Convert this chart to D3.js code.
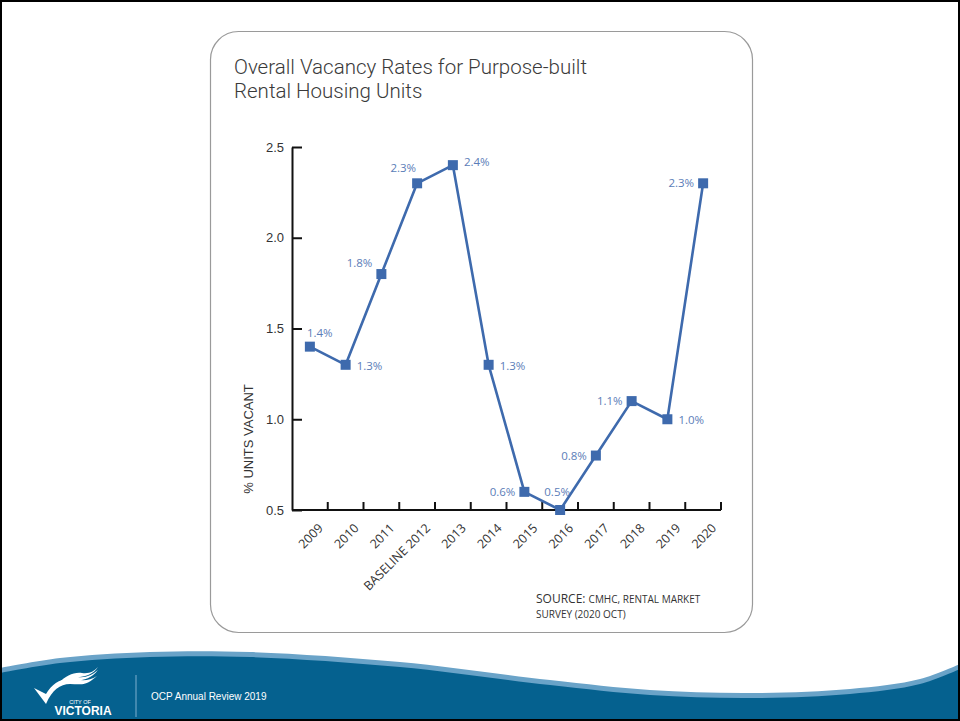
<!DOCTYPE html>
<html>
<head>
<meta charset="utf-8">
<script src="https://cdn.jsdelivr.net/npm/d3@7"></script>
<style>
  html, body { margin: 0; padding: 0; background: #fff; }
  svg { display: block; }
</style>
</head>
<body>
<div id="chart"></div>
<script>
// chart data
const years = ["2009", "2010", "2011", "BASELINE 2012", "2013", "2014", "2015", "2016", "2017", "2018", "2019", "2020"];
const vacancy = [1.4, 1.3, 1.8, 2.3, 2.4, 1.3, 0.6, 0.5, 0.8, 1.1, 1.0, 2.3];
const yTicks = [0.5, 1.0, 1.5, 2.0, 2.5];
// where each value label sits relative to its point
const labelSide = ["above", "right", "left", "aboveLeft", "right", "right", "left", "above", "left", "left", "right", "left"];

const W = 960, H = 721;
const lineColor = "#3e6aad";
const labelColor = "#5b7db8";

const svg = d3.select("#chart").append("svg")
    .attr("width", W)
    .attr("height", H);

svg.append("rect").attr("width", W).attr("height", H).attr("fill", "#fff");

// card
svg.append("rect")
    .attr("x", 210.5).attr("y", 31.5)
    .attr("width", 542).attr("height", 601)
    .attr("rx", 28).attr("ry", 28)
    .attr("fill", "#fff")
    .attr("stroke", "#9a9a9a")
    .attr("stroke-width", 1.2);

// title
const title = svg.append("text")
    .attr("x", 234).attr("y", 73)
    .attr("font-family", "Roboto, 'Liberation Sans', sans-serif")
    .attr("font-weight", 300)
    .attr("font-size", 20.5)
    .attr("fill", "#3a3a3a");
title.append("tspan").attr("x", 234).attr("y", 74).text("Overall Vacancy Rates for Purpose-built");
title.append("tspan").attr("x", 234).attr("y", 98).text("Rental Housing Units");

// scales
const plotL = 292, plotR = 721, plotT = 147, plotB = 510;
const x = d3.scaleBand().domain(years).range([plotL, plotR]).paddingInner(0).paddingOuter(0);
const y = d3.scaleLinear().domain([0.5, 2.5]).range([plotB, plotT]);

// y axis
const yAxis = d3.axisRight(y).tickValues(yTicks).tickFormat(d3.format(".1f")).tickSize(10).tickSizeOuter(0);
const gy = svg.append("g")
    .attr("transform", "translate(" + plotL + ",0)")
    .call(yAxis);
gy.select(".domain").attr("stroke", "#111").attr("stroke-width", 2);
gy.selectAll(".tick line").attr("stroke", "#111").attr("stroke-width", 2);
gy.selectAll(".tick text")
    .attr("x", -8)
    .attr("text-anchor", "end")
    .attr("font-family", "'Liberation Sans', Arial, sans-serif")
    .attr("font-size", 13)
    .attr("fill", "#333");

// x axis: ticks at the right edge of each band, pointing up
const gx = svg.append("g").attr("transform", "translate(0," + plotB + ")");
gx.append("line")
    .attr("x1", plotL).attr("x2", plotR)
    .attr("stroke", "#111").attr("stroke-width", 2);
gx.selectAll(".xt").data(years).join("line")
    .attr("class", "xt")
    .attr("x1", d => x(d) + x.bandwidth()).attr("x2", d => x(d) + x.bandwidth())
    .attr("y1", 0).attr("y2", -8)
    .attr("stroke", "#111").attr("stroke-width", 2);
gx.selectAll(".xl").data(years).join("text")
    .attr("class", "xl")
    .attr("transform", d => "translate(" + (x(d) + x.bandwidth() / 2 + 14) + ",19) rotate(-45)")
    .attr("text-anchor", "end")
    .attr("font-family", "'Open Sans', 'DejaVu Sans', sans-serif")
    .attr("font-size", 12.5)
    .attr("fill", "#333")
    .text(d => d);

// y title
svg.append("text")
    .attr("transform", "translate(253,439) rotate(-90)")
    .attr("text-anchor", "middle")
    .attr("font-family", "'Liberation Sans', Arial, sans-serif")
    .attr("font-size", 13)
    .attr("fill", "#333")
    .text("% UNITS VACANT");

// line
const pts = years.map((d, i) => ({ year: d, v: vacancy[i], side: labelSide[i] }));
const line = d3.line()
    .x(d => x(d.year) + x.bandwidth() / 2)
    .y(d => y(d.v));

svg.append("path")
    .datum(pts)
    .attr("d", line)
    .attr("fill", "none")
    .attr("stroke", lineColor)
    .attr("stroke-width", 2.6)
    .attr("stroke-linejoin", "round");

const sq = 10;
svg.selectAll(".mk").data(pts).join("rect")
    .attr("class", "mk")
    .attr("x", d => x(d.year) + x.bandwidth() / 2 - sq / 2)
    .attr("y", d => y(d.v) - sq / 2)
    .attr("width", sq).attr("height", sq)
    .attr("fill", lineColor);

// value labels
const offs = {
    above: { dx: -3, dy: -14, anchor: "start" },
    right: { dx: 11, dy: 1, anchor: "start" },
    left: { dx: -9, dy: 0, anchor: "end" },
    aboveLeft: { dx: -1, dy: -15, anchor: "end" }
};
svg.selectAll(".vl").data(pts).join("text")
    .attr("class", "vl")
    .attr("x", d => {
        let cx = x(d.year) + x.bandwidth() / 2;
        if (d.year === "2016") return cx - 3;
        return cx + offs[d.side].dx;
    })
    .attr("y", d => {
        if (d.year === "2016") return y(d.v) - 18;
        if (d.year === "2011") return y(d.v) - 11;
        if (d.year === "2013") return y(d.v) - 3;
        return y(d.v) + offs[d.side].dy;
    })
    .attr("dy", "0.35em")
    .attr("text-anchor", d => d.year === "2016" ? "middle" : offs[d.side].anchor)
    .attr("font-family", "'Open Sans', 'DejaVu Sans', sans-serif")
    .attr("font-size", 11.5)
    .attr("fill", labelColor)
    .text(d => d3.format(".1f")(d.v) + "%");

// source note
const src = svg.append("text")
    .attr("x", 536).attr("y", 603)
    .attr("font-family", "'Open Sans', 'DejaVu Sans', sans-serif")
    .attr("fill", "#333");
src.append("tspan").attr("font-size", 12).text("SOURCE: ");
src.append("tspan").attr("font-size", 10).text("CMHC, RENTAL MARKET");
svg.append("text")
    .attr("x", 536).attr("y", 618)
    .attr("font-family", "'Open Sans', 'DejaVu Sans', sans-serif")
    .attr("font-size", 10)
    .attr("fill", "#333")
    .text("SURVEY (2020 OCT)");

// footer wave
const waveTop = [[0, 668], [60, 658], [150, 652], [250, 652], [400, 662], [550, 680], [650, 690], [750, 693], [850, 689], [920, 679], [960, 664]];
const wave = d3.line().curve(d3.curveCatmullRom);
svg.append("path")
    .attr("d", wave(waveTop) + "L960,721L0,721Z")
    .attr("fill", "#6aa3c8");
svg.append("path")
    .attr("d", wave(waveTop.map(p => [p[0], p[1] + 5])) + "L960,721L0,721Z")
    .attr("fill", "#05618f");

// logo
const logo = svg.append("g").attr("fill", "#fff");
logo.append("path").attr("d", "M34,688 L46,704 C52,690 60,684 70,684 C78,684 84,686 92,680 L97,676 C88,682 80,680 72,679 C60,678 52,684 46,694 Z");
logo.append("path").attr("d", "M52,690 C60,680 68,676 78,677 C86,678 92,675 98,670 C92,678 84,680 76,681 C66,682 58,686 52,690 Z");
logo.append("path").attr("d", "M58,684 C66,675 74,672 82,673 C90,674 94,671 98,667 C93,674 87,676 80,677 C70,677 64,680 58,684 Z");
logo.append("text")
    .attr("x", 80).attr("y", 704)
    .attr("font-family", "'Liberation Sans', Arial, sans-serif")
    .attr("font-size", 5.5)
    .attr("text-anchor", "middle")
    .text("CITY OF");
logo.append("text")
    .attr("x", 83).attr("y", 715)
    .attr("font-family", "'Liberation Sans', Arial, sans-serif")
    .attr("font-size", 12)
    .attr("font-weight", "bold")
    .attr("text-anchor", "middle")
    .text("VICTORIA");

svg.append("line")
    .attr("x1", 136).attr("x2", 136)
    .attr("y1", 675).attr("y2", 717)
    .attr("stroke", "#7fb0cf").attr("stroke-width", 1);

svg.append("text")
    .attr("x", 151).attr("y", 700)
    .attr("font-family", "'Liberation Sans', Arial, sans-serif")
    .attr("font-size", 10)
    .attr("fill", "#fff")
    .text("OCP Annual Review 2019");

// page border
svg.append("rect")
    .attr("x", 1).attr("y", 1)
    .attr("width", W - 2).attr("height", H - 2)
    .attr("fill", "none")
    .attr("stroke", "#000")
    .attr("stroke-width", 2);
</script>
</body>
</html>
